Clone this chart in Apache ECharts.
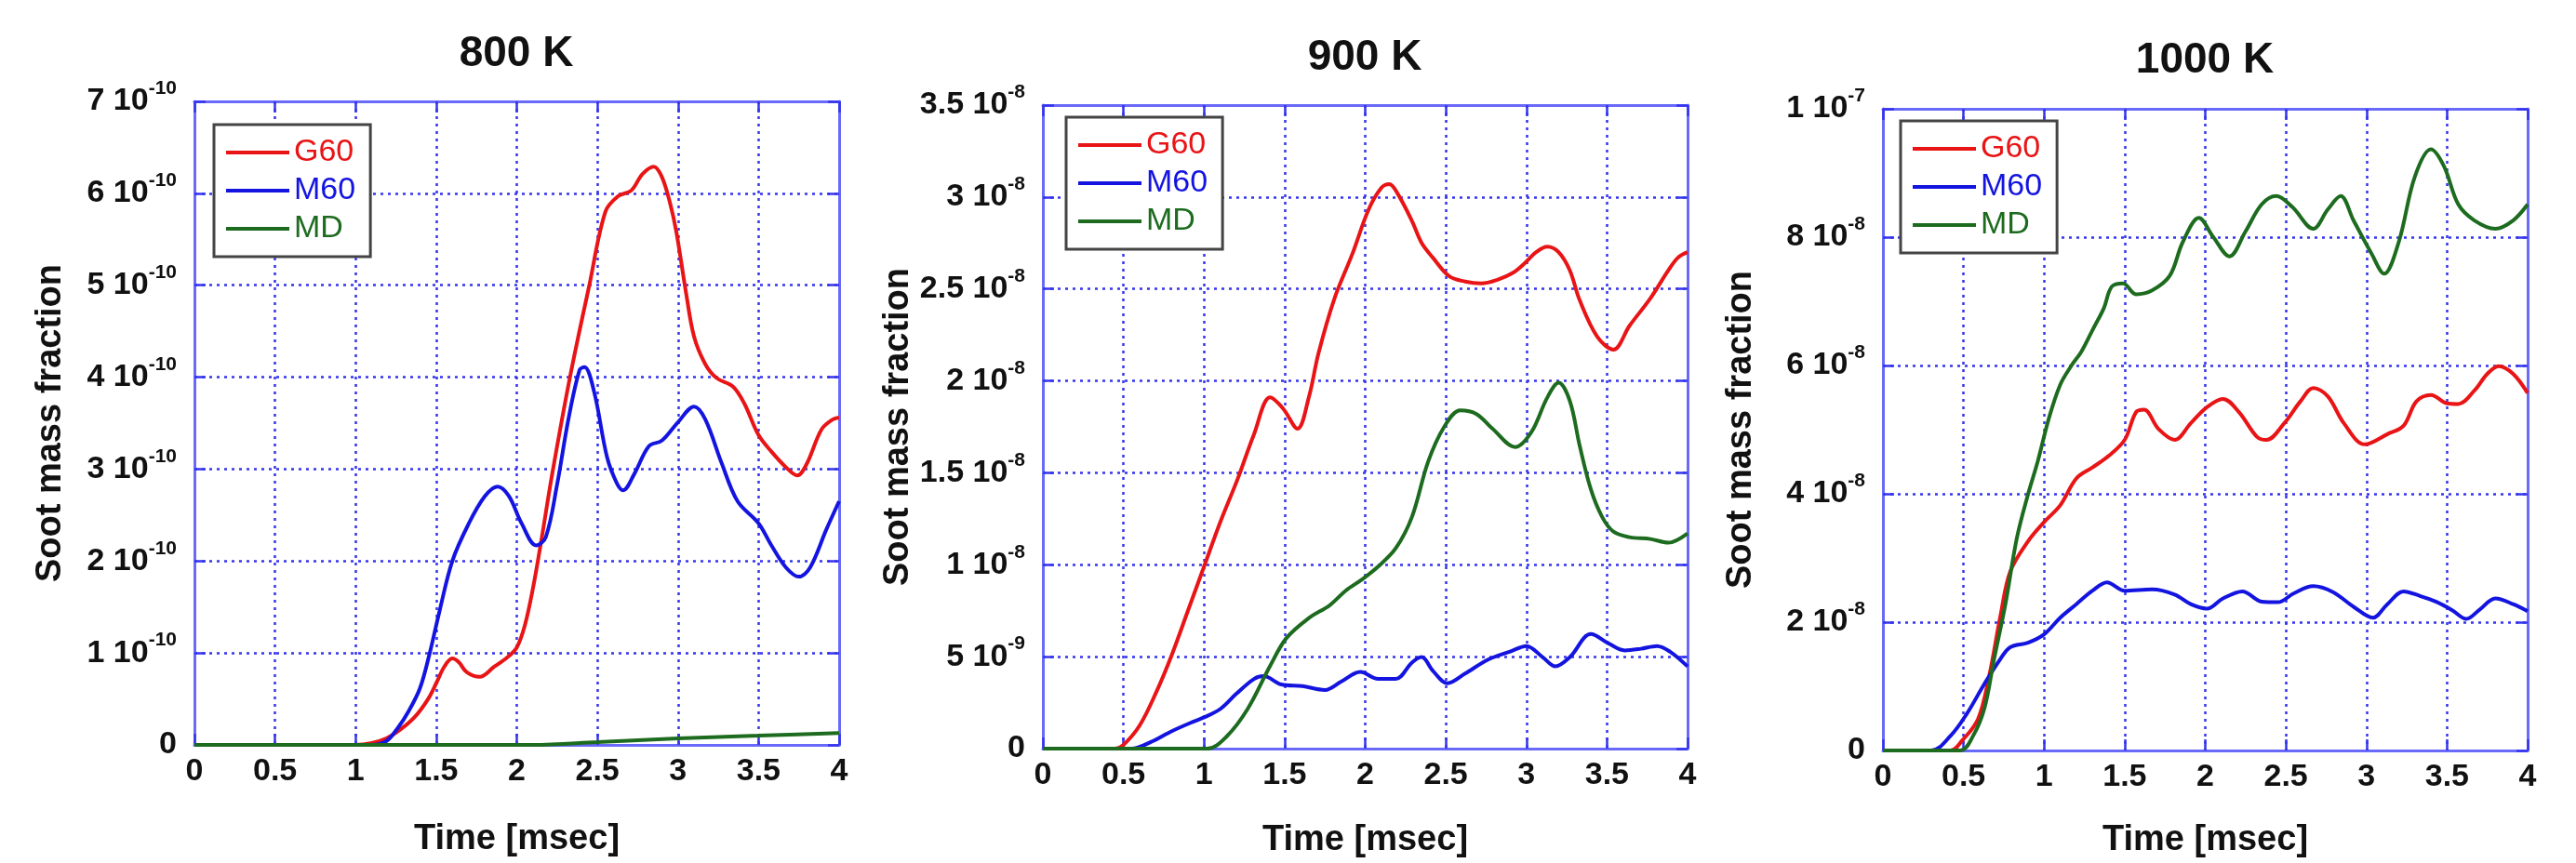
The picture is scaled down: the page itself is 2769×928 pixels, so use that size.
<!DOCTYPE html>
<html>
<head>
<meta charset="utf-8">
<script src="https://cdn.jsdelivr.net/npm/echarts@6/dist/echarts.min.js"></script>
<style>
html,body{margin:0;padding:0;background:#fff;}
#chart{width:2769px;height:928px;}
</style>
</head>
<body>
<div id="chart"></div>
<script>
// ---------- DATA ----------
const panelTitles = ['800 K', '900 K', '1000 K'];
const seriesNames = ['G60', 'M60', 'MD'];
const xTicks = [0, 0.5, 1, 1.5, 2, 2.5, 3, 3.5, 4];
const yMax = [7e-10, 3.5e-8, 1e-7];
const yStep = [1e-10, 5e-9, 2e-8];

// 800 K  (values in units of 1e-10)
const unit800 = 1e-10;
const t800G = [0, 1.0, 1.1, 1.19, 1.28, 1.37, 1.45, 1.5, 1.55, 1.6, 1.64, 1.69, 1.77, 1.86, 1.94, 2.0, 2.05, 2.1, 2.15, 2.22, 2.33, 2.45, 2.55, 2.63, 2.71, 2.78, 2.85, 2.9, 2.95, 2.99, 3.05, 3.1, 3.17, 3.24, 3.34, 3.41, 3.5, 3.58, 3.67, 3.74, 3.8, 3.89, 3.96, 4.0];
const v800G = [0, 0, 0.02, 0.07, 0.17, 0.31, 0.5, 0.67, 0.85, 0.94, 0.9, 0.79, 0.74, 0.85, 0.95, 1.06, 1.3, 1.7, 2.2, 2.95, 4.0, 5.0, 5.8, 5.97, 6.03, 6.21, 6.29, 6.18, 5.9, 5.58, 4.92, 4.44, 4.14, 3.99, 3.9, 3.72, 3.37, 3.19, 3.02, 2.93, 3.06, 3.43, 3.54, 3.56];
const t800M = [0, 1.1, 1.19, 1.26, 1.33, 1.4, 1.46, 1.52, 1.6, 1.7, 1.8, 1.88, 1.95, 2.03, 2.12, 2.18, 2.25, 2.32, 2.39, 2.42, 2.48, 2.56, 2.62, 2.66, 2.73, 2.82, 2.9, 3.0, 3.1, 3.17, 3.27, 3.37, 3.5, 3.58, 3.67, 3.75, 3.82, 3.92, 4.0];
const v800M = [0, 0, 0.04, 0.18, 0.37, 0.62, 1.0, 1.45, 2.0, 2.4, 2.7, 2.81, 2.71, 2.41, 2.17, 2.26, 2.83, 3.54, 4.08, 4.11, 3.84, 3.13, 2.85, 2.77, 2.95, 3.25, 3.31, 3.51, 3.68, 3.54, 3.07, 2.65, 2.41, 2.17, 1.93, 1.83, 1.93, 2.34, 2.65];
const t800D = [0, 2.1, 2.5, 3.0, 3.5, 4.0];
const v800D = [0, 0, 0.03, 0.07, 0.1, 0.13];

// 900 K  (G60, MD in 1e-8 ; M60 in 1e-9)
const t900G = [0, 0.45, 0.5, 0.6, 0.7, 0.8, 0.9, 1.0, 1.1, 1.21, 1.31, 1.41, 1.49, 1.58, 1.65, 1.71, 1.81, 1.92, 2.02, 2.1, 2.15, 2.2, 2.29, 2.35, 2.42, 2.52, 2.62, 2.72, 2.82, 2.92, 2.99, 3.06, 3.13, 3.2, 3.27, 3.33, 3.44, 3.54, 3.64, 3.77, 3.88, 3.94, 4.0];
const v900G = [0, 0, 0.02, 0.125, 0.3, 0.51, 0.75, 0.99, 1.23, 1.47, 1.71, 1.91, 1.85, 1.74, 1.91, 2.15, 2.45, 2.69, 2.93, 3.05, 3.07, 3.02, 2.87, 2.75, 2.67, 2.57, 2.54, 2.53, 2.55, 2.59, 2.64, 2.70, 2.73, 2.70, 2.60, 2.44, 2.24, 2.17, 2.30, 2.45, 2.60, 2.67, 2.70];
const t900M = [0, 0.55, 0.67, 0.8, 0.94, 1.0, 1.1, 1.2, 1.31, 1.37, 1.48, 1.61, 1.75, 1.85, 1.97, 2.08, 2.19, 2.29, 2.35, 2.42, 2.51, 2.62, 2.76, 2.9, 3.0, 3.1, 3.18, 3.27, 3.4, 3.51, 3.61, 3.71, 3.81, 3.89, 4.0];
const v900M = [0, 0, 0.36, 0.95, 1.49, 1.7, 2.15, 2.98, 3.79, 3.94, 3.49, 3.40, 3.19, 3.64, 4.17, 3.79, 3.79, 4.68, 4.98, 4.23, 3.55, 4.08, 4.83, 5.28, 5.58, 4.98, 4.47, 4.98, 6.23, 5.72, 5.34, 5.43, 5.58, 5.28, 4.47];
const t900D = [0, 1.02, 1.14, 1.27, 1.41, 1.51, 1.65, 1.78, 1.88, 1.98, 2.08, 2.19, 2.29, 2.39, 2.49, 2.59, 2.69, 2.79, 2.93, 3.03, 3.13, 3.2, 3.27, 3.33, 3.4, 3.47, 3.54, 3.64, 3.77, 3.88, 4.0];
const v900D = [0, 0, 0.066, 0.215, 0.45, 0.60, 0.71, 0.78, 0.86, 0.92, 0.99, 1.09, 1.26, 1.56, 1.75, 1.84, 1.82, 1.74, 1.64, 1.72, 1.91, 1.99, 1.89, 1.65, 1.41, 1.26, 1.18, 1.15, 1.14, 1.12, 1.17];

// 1000 K (values in 1e-8)
const t1000G = [0, 0.42, 0.49, 0.59, 0.66, 0.73, 0.79, 0.9, 1.0, 1.1, 1.2, 1.3, 1.4, 1.5, 1.57, 1.62, 1.71, 1.81, 1.91, 2.01, 2.11, 2.21, 2.32, 2.38, 2.49, 2.59, 2.67, 2.76, 2.86, 2.99, 3.13, 3.23, 3.31, 3.4, 3.5, 3.57, 3.67, 3.75, 3.82, 3.91, 4.0];
const v1000G = [0, 0, 0.15, 0.49, 1.17, 2.11, 2.79, 3.26, 3.56, 3.82, 4.24, 4.41, 4.59, 4.84, 5.27, 5.31, 5.01, 4.84, 5.10, 5.35, 5.48, 5.27, 4.89, 4.84, 5.10, 5.44, 5.65, 5.52, 5.10, 4.77, 4.93, 5.06, 5.44, 5.54, 5.41, 5.40, 5.61, 5.87, 5.99, 5.87, 5.57];
const t1000M = [0, 0.3, 0.42, 0.52, 0.63, 0.73, 0.79, 0.9, 1.0, 1.1, 1.2, 1.3, 1.39, 1.5, 1.67, 1.81, 1.91, 2.01, 2.11, 2.23, 2.35, 2.45, 2.55, 2.67, 2.79, 2.92, 3.04, 3.13, 3.23, 3.33, 3.43, 3.53, 3.62, 3.7, 3.8, 3.91, 4.0];
const v1000M = [0, 0, 0.23, 0.57, 1.04, 1.43, 1.61, 1.68, 1.81, 2.07, 2.28, 2.49, 2.62, 2.49, 2.51, 2.43, 2.28, 2.21, 2.37, 2.48, 2.32, 2.31, 2.45, 2.56, 2.47, 2.24, 2.07, 2.28, 2.48, 2.41, 2.32, 2.19, 2.05, 2.19, 2.37, 2.28, 2.17];
const t1000D = [0, 0.48, 0.56, 0.63, 0.69, 0.76, 0.83, 0.9, 0.96, 1.03, 1.1, 1.17, 1.23, 1.3, 1.37, 1.42, 1.49, 1.57, 1.67, 1.78, 1.86, 1.96, 2.05, 2.15, 2.25, 2.35, 2.44, 2.54, 2.67, 2.76, 2.84, 2.92, 3.03, 3.11, 3.2, 3.3, 3.4, 3.48, 3.57, 3.67, 3.8, 3.91, 4.0];
const v1000D = [0, 0, 0.23, 0.66, 1.43, 2.28, 3.30, 3.99, 4.50, 5.18, 5.70, 6.0, 6.21, 6.55, 6.89, 7.23, 7.28, 7.11, 7.17, 7.40, 7.92, 8.30, 8.0, 7.70, 8.09, 8.51, 8.64, 8.47, 8.13, 8.43, 8.64, 8.26, 7.75, 7.43, 7.92, 8.94, 9.37, 9.11, 8.51, 8.26, 8.13, 8.26, 8.51];

// ---------- BUILD ----------
const colors = {G60: '#e81416', M60: '#1414e0', MD: '#1d6b1f'};
const panels = [
  {grid: {left: 209, top: 109, width: 693, height: 692}, title: {x: 555, y: 35}, legend: {left: 230, top: 134}, nameGapY: 135, nameGapX: 83,
   series: [[t800G, v800G, unit800], [t800M, v800M, unit800], [t800D, v800D, unit800]]},
  {grid: {left: 1121, top: 113, width: 693, height: 694}, title: {x: 1467, y: 39}, legend: {left: 1146, top: 126}, nameGapY: 128, nameGapX: 80,
   series: [[t900G, v900G, 1e-8], [t900M, v900M, 1e-9], [t900D, v900D, 1e-8]]},
  {grid: {left: 2024, top: 117, width: 693, height: 692}, title: {x: 2370, y: 42}, legend: {left: 2043, top: 130}, nameGapY: 133, nameGapX: 78,
   series: [[t1000G, v1000G, 1e-8], [t1000M, v1000M, 1e-8], [t1000D, v1000D, 1e-8]]}
];

const FONT = '"Liberation Sans", Arial, sans-serif';
const frameColor = '#6a6afa';
const gridColor = '#3535ee';

function yFmt(v) {
  if (Math.abs(v) < 1e-20) return '{m|0}';
  const e = Math.floor(Math.log10(v) + 1e-9);
  const m = Math.round(v / Math.pow(10, e) * 10) / 10;
  return '{m|' + m + ' 10}{s|' + e + '}';
}

const option = {
  backgroundColor: '#ffffff',
  animation: false,
  title: [], grid: [], xAxis: [], yAxis: [], legend: [], series: []
};

panels.forEach((p, i) => {
  option.grid.push(Object.assign({containLabel: false}, p.grid));
  option.title.push({
    text: panelTitles[i], left: p.title.x, top: p.title.y, textAlign: 'center', padding: 0,
    textStyle: {fontFamily: FONT, fontWeight: 'bold', fontSize: 46, color: '#111'}
  });
  const common = {
    gridIndex: i, type: 'value',
    axisLine: {show: true, onZero: false, lineStyle: {color: frameColor, width: 3}},
    axisTick: {show: true, inside: true, length: 12, lineStyle: {color: gridColor, width: 2.5}}
  };
  option.xAxis.push(Object.assign({}, common, {
    position: 'bottom', min: 0, max: 4, interval: 0.5,
    name: 'Time [msec]', nameLocation: 'middle', nameGap: p.nameGapX,
    nameTextStyle: {fontFamily: FONT, fontWeight: 'bold', fontSize: 38, color: '#111'},
    axisLabel: {margin: 12, fontFamily: FONT, fontWeight: 'bold', fontSize: 34, color: '#111',
      formatter: v => String(v)},
    splitLine: {show: true, lineStyle: {color: gridColor, width: 2.5, type: [3, 5]}}
  }));
  option.xAxis.push(Object.assign({}, common, {
    position: 'top', min: 0, max: 4, interval: 0.5,
    axisLabel: {show: false}, splitLine: {show: false}
  }));
  option.yAxis.push(Object.assign({}, common, {
    position: 'left', min: 0, max: yMax[i], interval: yStep[i],
    name: 'Soot mass fraction', nameLocation: 'middle', nameGap: p.nameGapY, nameRotate: 90,
    nameTextStyle: {fontFamily: FONT, fontWeight: 'bold', fontSize: 38, color: '#111'},
    axisLabel: {margin: 19, formatter: yFmt,
      rich: {
        m: {fontFamily: FONT, fontWeight: 'bold', fontSize: 34, color: '#111', lineHeight: 48, verticalAlign: 'middle'},
        s: {fontFamily: FONT, fontWeight: 'bold', fontSize: 21, color: '#111', lineHeight: 21, verticalAlign: 'top'}
      }},
    splitLine: {show: true, lineStyle: {color: gridColor, width: 2.5, type: [3, 5]}}
  }));
  option.yAxis.push(Object.assign({}, common, {
    position: 'right', min: 0, max: yMax[i], interval: yStep[i],
    axisLabel: {show: false}, splitLine: {show: false}
  }));

  option.legend.push({
    orient: 'vertical', left: p.legend.left, top: p.legend.top,
    backgroundColor: '#ffffff', borderColor: '#444444', borderWidth: 3, borderRadius: 0,
    padding: [13, 16, 13, 13], itemWidth: 68, itemHeight: 4, itemGap: 7,
    icon: 'rect', selectedMode: false,
    textStyle: {fontFamily: FONT, fontSize: 34},
    data: seriesNames.map(n => ({name: n, textStyle: {color: colors[n]}}))
  });

  p.series.forEach((s, k) => {
    const [ts, vs, u] = s;
    option.series.push({
      name: seriesNames[k], type: 'line',
      xAxisIndex: 2 * i, yAxisIndex: 2 * i,
      symbol: 'none', smooth: 0.35,
      lineStyle: {color: colors[seriesNames[k]], width: 4},
      itemStyle: {color: colors[seriesNames[k]]},
      data: ts.map((t, j) => [t, vs[j] * u]),
      z: 3
    });
  });
});

const chart = echarts.init(document.getElementById('chart'), null, {renderer: 'canvas'});
chart.setOption(option);
</script>
</body>
</html>
